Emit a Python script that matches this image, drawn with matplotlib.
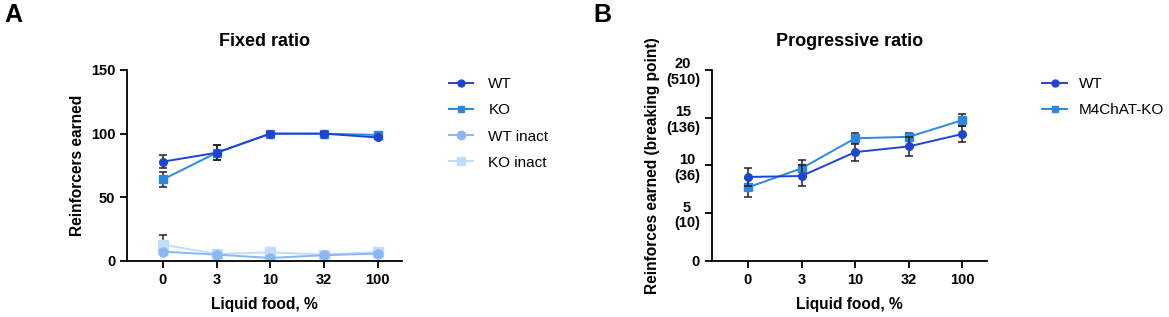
import numpy as np
import matplotlib
matplotlib.use('Agg')
import matplotlib.pyplot as plt
from matplotlib.lines import Line2D

plt.rcParams['font.family'] = ['Liberation Sans', 'DejaVu Sans']

doses = ['0', '3', '10', '32', '100']

# fixed ratio
fr_wt = [78, 85, 100, 100, 97]
fr_wt_sem = [5, 6, 1, 1, 1]
fr_ko = [64, 85, 100, 100, 99]
fr_ko_sem = [6, 6, 1, 1, 1]
fr_wt_inact = [7.3, 5, 2.4, 4.5, 5.8]
fr_wt_inact_sem = [1, 1, 1, 1, 1]
fr_ko_inact = [12.8, 5.5, 6.8, 5, 7]
fr_ko_inact_sem = [7.6, 1, 3, 1, 1]

# progressive ratio
pr_wt = [8.8, 8.9, 11.4, 12.0, 13.3]
pr_wt_sem = [0.9, 1.1, 0.9, 1.0, 0.8]
pr_ko = [7.7, 9.7, 12.85, 13.0, 14.75]
pr_ko_sem = [1.0, 0.9, 0.5, 0.4, 0.6]
pr_ticks = [0, 5, 10, 15, 20]
pr_ticklabels = ['0', '5\n(10)', '10\n(36)', '15\n(136)', '20\n(510)']

c_wt = '#1f45d0'
c_ko = '#2b88e0'
c_wt_in = '#8ab8f5'
c_ko_in = '#c3dcfa'

fig = plt.figure(figsize=(11.69, 3.17), dpi=100)
axA = fig.add_axes([0.1086, 0.1767, 0.235, 0.6025])
axB = fig.add_axes([0.609, 0.1767, 0.235, 0.6025])

x = np.arange(len(doses))


def series(ax, y, e, color, marker, ms, z):
    ax.errorbar(x, y, yerr=e, color=color, ecolor='#222222', elinewidth=1.1,
                capsize=3, capthick=1.1, marker=marker, ms=ms, lw=1.4, zorder=z)
    return Line2D([], [], color=color, marker=marker, ms=ms - 0.5, lw=1.4)


hA = []
hA.append(series(axA, fr_ko_inact, fr_ko_inact_sem, c_ko_in, 's', 6.5, 2))
hA.append(series(axA, fr_wt_inact, fr_wt_inact_sem, c_wt_in, 'o', 6.5, 3))
hA.append(series(axA, fr_ko, fr_ko_sem, c_ko, 's', 5.5, 4))
hA.append(series(axA, fr_wt, fr_wt_sem, c_wt, 'o', 5.5, 5))
axA.set_ylim(0, 150)
axA.set_yticks([0, 50, 100, 150])
axA.set_ylabel('Reinforcers earned', fontsize=11.2, fontweight='bold')
axA.set_title('Fixed ratio', fontsize=13, fontweight='bold', pad=17)
axA.legend(hA[::-1], ['WT', 'KO', 'WT inact', 'KO inact'], loc='upper left',
           bbox_to_anchor=(0.372, 0.80), bbox_transform=fig.transFigure,
           frameon=False, fontsize=11, handlelength=1.6, labelspacing=0.8,
           handletextpad=1.0)

hB = []
hB.append(series(axB, pr_ko, pr_ko_sem, c_ko, 's', 5.5, 4))
hB.append(series(axB, pr_wt, pr_wt_sem, c_wt, 'o', 5.5, 5))
axB.set_ylim(0, 20)
axB.set_yticks(pr_ticks)
axB.set_yticklabels(pr_ticklabels, linespacing=1.15, multialignment='center')
axB.set_ylabel('Reinforces earned (breaking point)', fontsize=11.2, fontweight='bold')
axB.set_title('Progressive ratio', fontsize=13, fontweight='bold', pad=17)
axB.legend(hB[::-1], ['WT', 'M4ChAT-KO'], loc='upper left',
           bbox_to_anchor=(0.88, 0.80), bbox_transform=fig.transFigure,
           frameon=False, fontsize=11, handlelength=1.6, labelspacing=0.8,
           handletextpad=0.8)

for ax in (axA, axB):
    ax.set_xlim(-0.67, 4.45)
    ax.set_xticks(x)
    ax.set_xticklabels(doses)
    ax.set_xlabel('Liquid food, %', fontsize=11.2, fontweight='bold', labelpad=7)
    for s in ('top', 'right'):
        ax.spines[s].set_visible(False)
    for s in ('left', 'bottom'):
        ax.spines[s].set_linewidth(1.3)
    ax.tick_params(width=1.3, length=5, labelsize=10.5)
    for t in ax.get_xticklabels() + ax.get_yticklabels():
        t.set_fontweight('bold')
    ax.spines['bottom'].set_zorder(10)

fig.text(0.004, 0.99, 'A', fontsize=18, fontweight='bold', va='top')
fig.text(0.508, 0.99, 'B', fontsize=18, fontweight='bold', va='top')

fig.savefig('out.png', dpi=100)
